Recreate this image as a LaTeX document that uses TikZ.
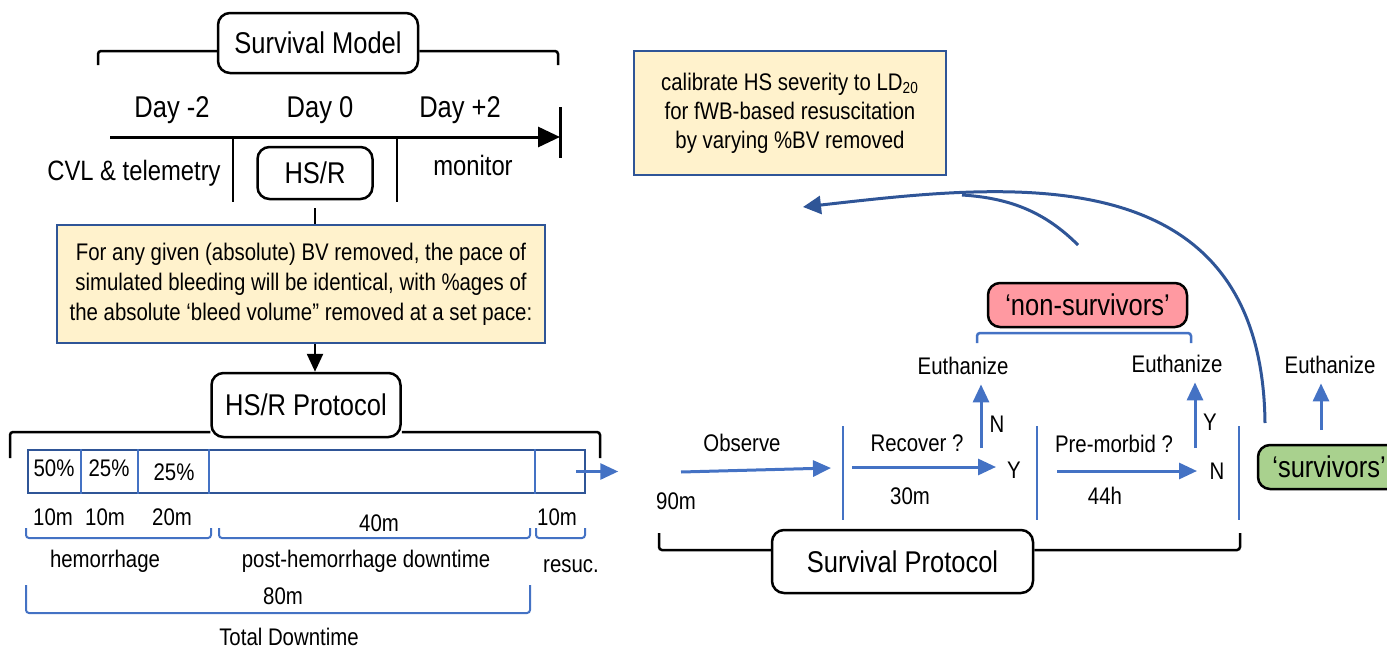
\documentclass[tikz,border=0pt]{standalone}
\usepackage{fontspec}
\setmainfont{Liberation Sans}[FakeStretch=0.85]
\usetikzlibrary{arrows.meta}
\definecolor{paleyel}{HTML}{FFF2CC}
\definecolor{navy}{HTML}{2F5597}
\definecolor{lblue}{HTML}{4472C4}
\definecolor{pinkish}{HTML}{FF99A1}
\definecolor{leaf}{HTML}{A9D18E}
\tikzset{
    rbox/.style={draw,line width=1.25pt,rounded corners=6pt,fill=white,inner sep=0pt,font=\fontsize{15}{18}\selectfont},
    note/.style={draw=navy,line width=1.25pt,fill=paleyel,inner sep=0pt,align=center,font=\fontsize{12}{15}\selectfont},
    lab/.style={inner sep=0pt,text height=0.7em,text depth=0pt,font=\fontsize{12}{14}\selectfont},
    biglab/.style={lab,font=\fontsize{15}{18}\selectfont},
    brak/.style={line width=1.25pt,rounded corners=1.5pt},
    bbrak/.style={lblue,line width=1pt,rounded corners=1.5pt},
    barr/.style={lblue,line width=1.5pt,-{Triangle[length=9pt,width=8pt]}},
    vsep/.style={lblue,line width=1.25pt}
}

\begin{document}
\begin{tikzpicture}[x=0.5pt,y=-0.5pt]
    \useasboundingbox (0,0) rectangle (1387,648);
    % survival model time line
    \node [rbox,minimum width=100pt,minimum height=30pt] (sm) at (318,43) {Survival Model};
    \draw [brak] (98,65) |- (sm.west |- 0,51);
    \draw [brak] (sm.east |- 0,51) -| (558,65);
    \node [biglab] (dm2) at (172,110) {Day -2};
    \node [biglab] (d0) at (320,110) {Day 0};
    \node [biglab] (dp2) at (460,110) {Day +2};
    \coordinate (t0) at (110,137);
    \coordinate (t1) at (560,137);
    \draw [line width=1.5pt,-{Triangle[length=11pt,width=10pt]}] (t0) -- (t1);
    \draw [line width=1.5pt] (t1 |- 0,107) -- (t1 |- 0,158);
    \foreach \x in {233,397} {
        \draw [line width=1.25pt] (\x,137) -- (\x,202);
    }
    \node [lab,font=\fontsize{14}{16}\selectfont] (cvl) at (134,173) {CVL \& telemetry};
    \node [lab,font=\fontsize{14}{16}\selectfont] (mon) at (473,168) {monitor};
    \node [rbox,minimum width=57.5pt,minimum height=26pt] (hsr) at (315,173) {HS/R};
    \node [note,minimum width=244pt,minimum height=59pt] (pace) at (301,284)
        {For any given (absolute) BV removed, the pace of\\
         simulated bleeding will be identical, with \%ages of\\
         the absolute ‘bleed volume” removed at a set pace:};
    \draw [line width=1.25pt] ([yshift=-4pt]hsr.south) -- (hsr.south |- pace.north);
    % HS/R protocol
    \node [rbox,minimum width=94.5pt,minimum height=32pt] (hsrp) at (306,405) {HS/R Protocol};
    \draw [line width=1.25pt,-{Triangle[length=9pt,width=8pt]}] (hsr.south |- pace.south) -- (hsr.south |- hsrp.north);
    \draw [brak] (10,458) |- (hsrp.west |- 0,432);
    \draw [brak] (hsrp.east |- 0,432) -| (600,458);
    \node [draw=navy,line width=1.25pt,inner sep=0pt,minimum width=278.5pt,minimum height=21.5pt] (bar) at (306.5,471.5) {};
    \foreach \x in {81,138,209,535} {
        \draw [lblue,line width=1pt] (\x,0 |- bar.north) -- (\x,0 |- bar.south);
    }
    \node [lab] (p1) at (54,469) {50\%};
    \node [lab] (p2) at (109,469) {25\%};
    \node [lab] (p3) at (174,473) {25\%};
    \draw [barr] ([xshift=-5pt]bar.east) -- ++(21pt,0);
    \foreach \x/\y/\t [count=\i] in {53/518/10m,105/518/10m,172/518/20m,379/524/40m,557/518/10m} {
        \node [lab] (m\i) at (\x,\y) {\t};
    }
    \foreach \a/\b in {26/211,219/530,536/585} {
        \draw [bbrak] (\a,528) |- (\b,538) -- (\b,528);
    }
    \node [lab] (hem) at (105,560) {hemorrhage};
    \node [lab] (post) at (366,560) {post-hemorrhage downtime};
    \node [lab] (res) at (571,565) {resuc.};
    \node [lab] (tot) at (283,597) {80m};
    \draw [bbrak] (26,585) |- (530,613) -- (530,585);
    \node [lab] (totd) at (289,638) {Total Downtime};
    % calibration
    \node [note,font=\fontsize{12}{14.5}\selectfont,minimum width=156pt,minimum height=62pt] (cal) at (790,113)
        {calibrate HS severity to LD\textsubscript{20}\\
         for fWB-based resuscitation\\
         by varying \%BV removed};
    \coordinate (cs) at (1265,423);
    \coordinate (cf) at (1078,245);
    \coordinate (ct) at (803,207);
    \draw [navy,line width=1.5pt,-{Triangle[length=9pt,width=9pt]}] (cs) .. controls (1262,150) and (1000,185) .. (ct);
    \draw [navy,line width=1.5pt] (cf) .. controls (1045,212) and (1010,198) .. (962,195);
    % survival protocol
    \node [rbox,fill=pinkish,minimum width=99.5pt,minimum height=22pt] (nons) at (1087.5,305) {‘non-survivors’};
    \draw [bbrak,line width=1.25pt] (977,343) |- (1191,333) -- (1191,343);
    \foreach \x/\y [count=\i] in {963/367,1177/365,1330/366} {
        \node [lab] (eu\i) at (\x,\y) {Euthanize};
    }
    \coordinate (u1) at (981,448);
    \coordinate (u2) at (1195,448);
    \coordinate (u3) at (1321,430);
    \foreach \i in {1,2,3} {
        \draw [barr,shorten >=5pt] (u\i) -- (u\i |- eu\i.south);
    }
    \node [lab] (nn) at (997,425) {N};
    \node [lab] (yy) at (1210,423) {Y};
    \foreach \x in {843,1037,1239} {
        \draw [vsep] (\x,426) -- (\x,520);
    }
    \coordinate (o0) at (681,472);
    \coordinate (o1) at (831,468);
    \coordinate (r0) at (852,467);
    \coordinate (r1) at (996,467);
    \coordinate (q0) at (1057,471);
    \coordinate (q1) at (1197,471);
    \draw [barr] (o0) -- (o1);
    \draw [barr] (r0) -- (r1);
    \draw [barr] (q0) -- (q1);
    \node [lab] (obs) at (742,444) {Observe};
    \node [lab] (m90) at (676,502) {90m};
    \node [lab] (rec) at (917,444) {Recover ?};
    \node [lab] (m30) at (910,497) {30m};
    \node [lab] (ry) at (1014,471) {Y};
    \node [lab] (pre) at (1114,445) {Pre-morbid ?};
    \node [lab] (h44) at (1105,497) {44h};
    \node [lab] (pn) at (1217,472) {N};
    \node [rbox,fill=leaf,minimum width=71pt,minimum height=22pt] (surv) at (1329,467) {‘survivors’};
    \node [rbox,minimum width=130.5pt,minimum height=31.5pt] (sp) at (902.5,561.5) {Survival Protocol};
    \draw [brak] (659,533) |- (sp.west |- 0,550);
    \draw [brak] (sp.east |- 0,550) -| (1240,533);
\end{tikzpicture}
\end{document}
